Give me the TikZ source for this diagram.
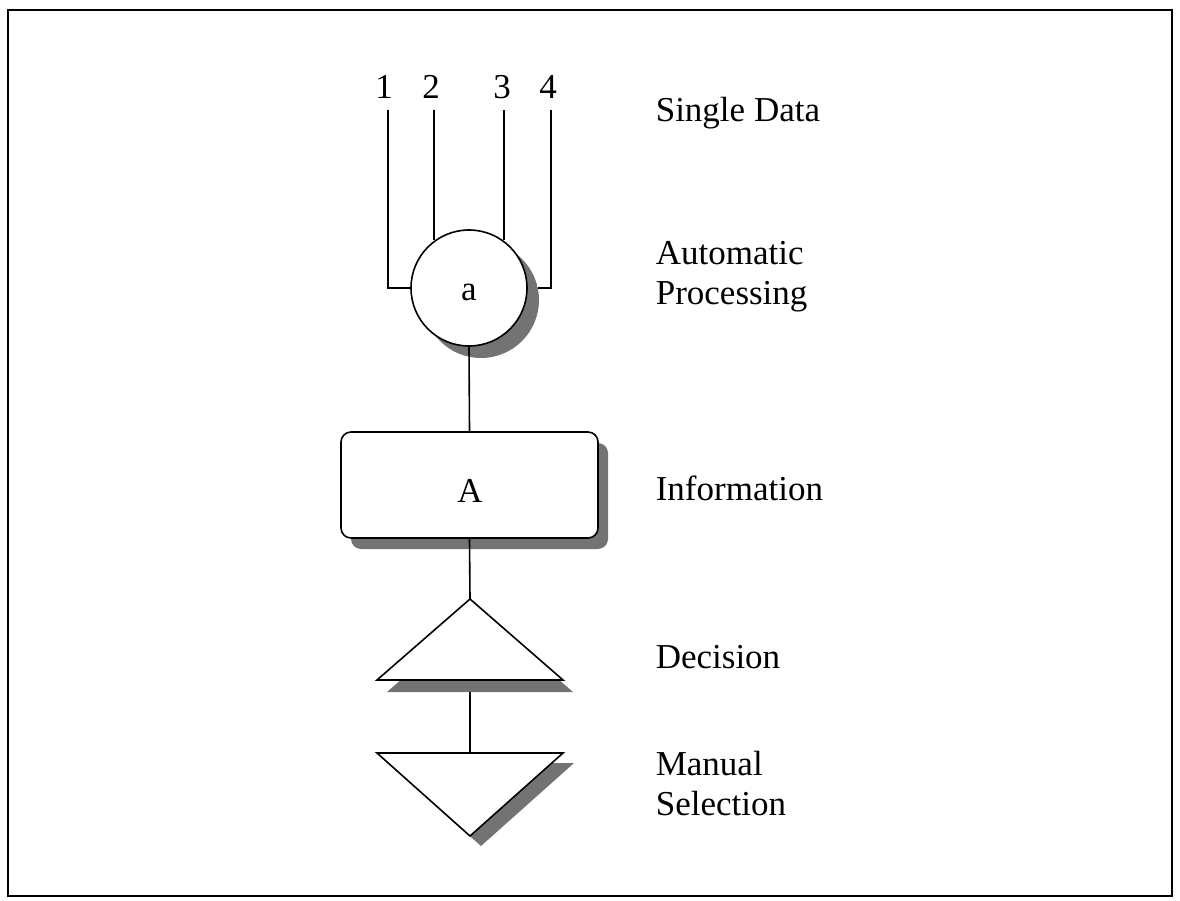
\documentclass[tikz,border=0pt]{standalone}
\usepackage{fontspec}
\setmainfont{Liberation Serif}
\usetikzlibrary{shapes.geometric}
\begin{document}
\begin{tikzpicture}[x=1pt,y=-1pt,line width=1.6pt,
  txt/.style={font=\fontsize{35}{40}\selectfont,inner sep=0pt},
  lbl/.style={txt,anchor=base west},
  shade/.style={fill=black!55,draw=none},
  box/.style={draw=black,fill=white}]
\useasboundingbox (0,0) rectangle (1180,901);
% outer frame
\draw[line width=2.2pt] (8,10) rectangle (1172,896);

% automatic processing circle with shadow
\fill[shade] (481,300) circle[radius=58];
\node[box,circle,minimum size=116pt,inner sep=0pt] (proc) at (469,288) {};
\node[txt,anchor=base] at (469,301) {a};

% single data inputs
\node[txt,anchor=base] (n1) at (384,99) {1};
\node[txt,anchor=base] (n2) at (431,99) {2};
\node[txt,anchor=base] (n3) at (502,99) {3};
\node[txt,anchor=base] (n4) at (548,99) {4};
\coordinate (c1) at (388,288);
\coordinate (c4) at (551,288);
\draw (388,110) -- (c1) -- (proc.west);
\draw (434,110) -- (434,240);
\draw (504,110) -- (504,240);
\draw (551,110) -- (c4) -- (538,288);

% information box with shadow
\fill[shade,rounded corners=10pt] (351,443) rectangle (608,549);
\node[box,rounded corners=10pt,minimum width=257pt,minimum height=106pt,inner sep=0pt] (info) at (469.5,485) {};
\node[txt,anchor=base] at (470,502) {A};
\draw (proc.south) -- (info.north);

% decision triangle with shadow
\fill[shade] (387,692) -- (573,692) -- (480,611) -- cycle;
\draw[fill=white] (377,680) coordinate (d1) -- (563,680) -- (470,599) coordinate (dtop) -- cycle;
\draw (info.south) -- (dtop);

% manual selection triangle with shadow
\fill[shade] (388,763) -- (574,763) -- (481,846) -- cycle;
\draw[fill=white] (377,753) -- (563,753) -- (470,836) -- cycle;
\coordinate (mtop) at (470,753);
\draw (470,692) -- (mtop);

% level labels
\node[lbl] at (655,122) {Single Data};
\node[lbl] at (655,265) {Automatic};
\node[lbl] at (655,304) {Processing};
\node[lbl] at (655,500) {Information};
\node[lbl] at (655,668) {Decision};
\node[lbl] at (655,775) {Manual};
\node[lbl] at (655,815) {Selection};
\end{tikzpicture}
\end{document}
